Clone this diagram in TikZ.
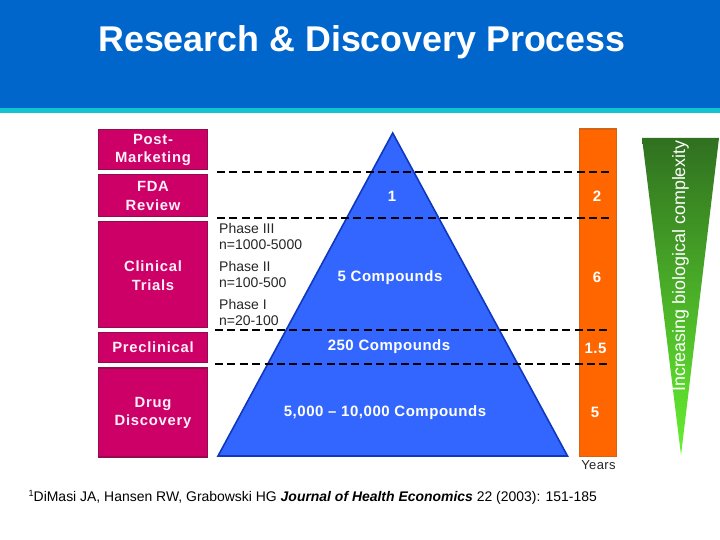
\documentclass[tikz,border=0pt]{standalone}
\usepackage{fontspec}
\setmainfont{Liberation Sans}
\definecolor{hdr}{RGB}{0,102,204}
\definecolor{teal}{RGB}{18,196,208}
\definecolor{mag}{RGB}{204,0,102}
\definecolor{magd}{RGB}{150,10,80}
\definecolor{pyr}{RGB}{51,102,255}
\definecolor{pyrd}{RGB}{16,56,190}
\definecolor{org}{RGB}{255,102,0}
\definecolor{orgd}{RGB}{215,98,20}
\definecolor{gdark}{RGB}{48,112,32}
\definecolor{gbright}{RGB}{102,240,48}
\definecolor{lbl}{RGB}{255,240,250}
\tikzset{
  stage/.style={draw=magd,fill=mag,line width=1.2pt,minimum width=109pt,inner sep=0pt,text=lbl,align=center,font=\bfseries\fontsize{14.8}{18.6}\selectfont\addfontfeatures{LetterSpace=5}},
  phase/.style={anchor=north west,inner sep=0pt,align=left,font=\fontsize{14}{16.5}\selectfont,text=black!85},
  wlabel/.style={text=white,inner sep=0pt,font=\bfseries\fontsize{15}{17}\selectfont\addfontfeatures{LetterSpace=3.5}},
  sep/.style={dashed,dash pattern=on 8pt off 4.4pt,line width=1.7pt,black}
}
\begin{document}
\begin{tikzpicture}[x=1pt,y=-1pt]
\useasboundingbox (0,0) rectangle (720,540);
\fill[white] (0,0) rectangle (720,540);
\fill[hdr] (0,0) rectangle (720,108);
\fill[teal] (0,108) rectangle (720,113);
\node[anchor=base,inner sep=0pt,text=white,font=\bfseries\fontsize{35.8}{40}\selectfont] (title) at (362,52) {Research \& Discovery Process};
% stages (box and label drawn separately so that the label can sit a little lower)
\node[stage,minimum height=40pt,text depth=0pt] (pm) at (153,149.5) {};
\node[stage,minimum height=42pt] (fda) at (153,195.5) {};
\node[stage,minimum height=106pt] (ct) at (153,274.5) {};
\node[stage,minimum height=30pt] (pre) at (153,347.5) {Preclinical};
\node[stage,minimum height=89pt] (dd) at (153,412.5) {};
\node[stage,draw=none,fill=none,minimum width=0pt] (pmt) at (153,150) {Post-\\Marketing};
\node[stage,draw=none,fill=none,minimum width=0pt] (fdat) at (153,196) {FDA\\Review};
\node[stage,draw=none,fill=none,minimum width=0pt] (ctt) at (153,275.5) {Clinical\\Trials};
\node[stage,draw=none,fill=none,minimum width=0pt] (ddt) at (153,413) {Drug\\Discovery};
% phases
\node[phase] (p3) at (219,222.8) {Phase III\\n=1000-5000};
\node[phase] (p2) at (219,261) {Phase II\\n=100-500};
\node[phase] (p1) at (219,299) {Phase I\\n=20-100};
% pyramid
\coordinate (apex) at (392.7,133);
\coordinate (bl) at (218,456);
\coordinate (br) at (567.5,456);
\draw[fill=pyr,draw=pyrd,line width=1.6pt,line join=miter] (apex) -- (br) -- (bl) -- cycle;
% orange bar
\node[draw=orgd,fill=org,line width=1.2pt,minimum width=37pt,minimum height=327pt,inner sep=0pt,anchor=north west] (bar) at (578.5,128.5) {};
% green wedge
\coordinate (gl) at (642,138);
\coordinate (gr) at (719,138);
\coordinate (gt) at (681,455);
\begin{scope}
\clip (gl) -- (gr) -- (gt) -- cycle;
\shade[top color=gdark,bottom color=gbright] (642,138) rectangle (719,455);
\end{scope}
\node[rotate=90,text=white,inner sep=0pt,font=\fontsize{17.9}{20}\selectfont] (cx) at (680.5,266) {Increasing biological complexity};
% dashed separators
\foreach \n/\y/\xa/\xb in {a/172/217/613,b/218/217/613,c/330/215/611,d/364/215/611}{
  \coordinate (s\n l) at (\xa,\y);
  \coordinate (s\n r) at (\xb,\y);
  \draw[sep] (s\n l) -- (s\n r);
}
% pyramid labels
\node[wlabel] (n1) at (392,196.5) {1};
\node[wlabel] (n5) at (390,277.5) {5 Compounds};
\node[wlabel] (n250) at (389,346.5) {250 Compounds};
\node[wlabel] (n5k) at (385,412.5) {5,000 -- 10,000 Compounds};
% years
\node[wlabel] (y2) at (597,196) {2};
\node[wlabel] (y6) at (597,277) {6};
\node[wlabel] (y15) at (595.5,348) {1.5};
\node[wlabel] (y5) at (595,412) {5};
\node[inner sep=0pt,text=black!85,font=\fontsize{13}{15}\selectfont\addfontfeatures{LetterSpace=3}] (yrs) at (598.5,465.5) {Years};
% citation
\node[anchor=base west,inner sep=0pt,text=black,font=\fontsize{13.95}{16}\selectfont] (cite) at (28.5,501) {\raisebox{4.5pt}{\fontsize{9}{10}\selectfont 1}DiMasi JA, Hansen RW, Grabowski HG \textbf{\textit{Journal of Health Economics}} 22 (2003): 151-185};
\end{tikzpicture}
\end{document}
